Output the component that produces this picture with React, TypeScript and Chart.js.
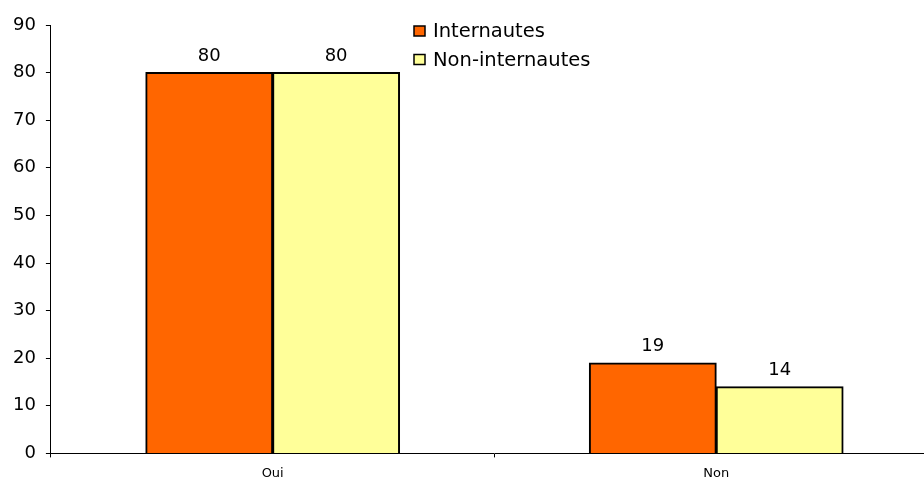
import React, { useEffect, useRef } from "react";
import { Chart, registerables } from "chart.js";

Chart.register(...registerables);

const categories = ["Oui", "Non"];
const seriesNames = ["Internautes", "Non-internautes"];
const internautes = [80, 19];
const nonInternautes = [80, 14];
const seriesColors = ["#FF6600", "#FFFF99"];
const yTicks = [0, 10, 20, 30, 40, 50, 60, 70, 80, 90];

const FONT = "'DejaVu Sans', Verdana, sans-serif";

const valueLabels = {
  id: "valueLabels",
  afterDatasetsDraw(chart: any) {
    const ctx = chart.ctx;
    ctx.save();
    ctx.font = `18px ${FONT}`;
    ctx.fillStyle = "#000";
    ctx.textAlign = "center";
    ctx.textBaseline = "alphabetic";
    chart.data.datasets.forEach((ds: any, i: number) => {
      const meta = chart.getDatasetMeta(i);
      meta.data.forEach((bar: any, j: number) => {
        ctx.fillText(String(ds.data[j]), bar.x, bar.y - 12);
      });
    });
    ctx.restore();
  },
};

const boxLegend = {
  id: "boxLegend",
  afterDraw(chart: any) {
    const ctx = chart.ctx;
    ctx.save();
    ctx.font = `19.5px ${FONT}`;
    ctx.textBaseline = "alphabetic";
    ctx.textAlign = "left";
    chart.data.datasets.forEach((ds: any, i: number) => {
      const x = 414;
      const y = 26 + i * 28.5;
      ctx.fillStyle = ds.backgroundColor;
      ctx.fillRect(x, y, 11, 10);
      ctx.strokeStyle = "#000";
      ctx.lineWidth = 1.5;
      ctx.strokeRect(x, y, 11, 10);
      ctx.fillStyle = "#000";
      ctx.fillText(ds.label, 433, y + 11);
    });
    ctx.restore();
  },
};

export default function App() {
  const ref = useRef<HTMLCanvasElement>(null);
  useEffect(() => {
    if (!ref.current) return;
    const chart = new Chart(ref.current, {
      type: "bar",
      data: {
        labels: categories,
        datasets: [
          {
            label: seriesNames[0],
            data: internautes,
            backgroundColor: seriesColors[0],
            borderColor: "#000",
            borderWidth: 2,
            inflateAmount: 0.5,
            barPercentage: 1,
            categoryPercentage: 254 / 444,
          },
          {
            label: seriesNames[1],
            data: nonInternautes,
            backgroundColor: seriesColors[1],
            borderColor: "#000",
            borderWidth: 2,
            inflateAmount: 0.5,
            barPercentage: 1,
            categoryPercentage: 254 / 444,
          },
        ],
      },
      options: {
        animation: false,
        responsive: false,
        maintainAspectRatio: false,
        layout: { padding: { top: 25, left: 3, right: 2, bottom: 0 } },
        plugins: {
          legend: { display: false },
          tooltip: { enabled: false },
        },
        scales: {
          x: {
            grid: {
              display: true,
              offset: true,
              drawOnChartArea: false,
              drawTicks: true,
              tickLength: 4,
              tickColor: "#000",
            },
            border: { display: true, color: "#000", width: 1 },
            ticks: {
              color: "#000",
              font: { family: FONT, size: 13 },
              padding: 8,
            },
          },
          y: {
            min: 0,
            max: 90,
            afterBuildTicks(scale: any) {
              scale.ticks = yTicks.map((v) => ({ value: v }));
            },
            grid: {
              display: true,
              drawOnChartArea: false,
              drawTicks: true,
              tickLength: 5,
              tickColor: "#000",
            },
            border: { display: true, color: "#000", width: 1 },
            ticks: {
              color: "#000",
              font: { family: FONT, size: 18 },
              padding: 10,
              stepSize: 10,
            },
          },
        },
      },
      plugins: [valueLabels, boxLegend],
    });
    return () => chart.destroy();
  }, []);
  return (
    <div
      style={{
        position: "fixed",
        left: 0,
        top: 0,
        width: 924,
        height: 477,
        overflow: "hidden",
        background: "#fff",
      }}
    >
      <canvas ref={ref} width={940} height={489} style={{ display: "block" }} />
    </div>
  );
}
